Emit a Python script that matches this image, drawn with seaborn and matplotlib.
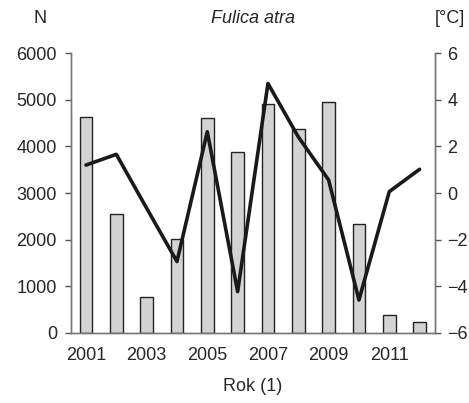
import numpy as np
import pandas as pd
import matplotlib
matplotlib.use('Agg')
import matplotlib.pyplot as plt
import seaborn as sns

# data
years = [2001, 2002, 2003, 2004, 2005, 2006, 2007, 2008, 2009, 2010, 2011, 2012]
counts = [4630, 2550, 760, 2010, 4600, 3880, 4920, 4380, 4950, 2330, 380, 230]
temps = [1.2, 1.66, -0.65, -2.94, 2.63, -4.23, 4.7, 2.41, 0.56, -4.59, 0.06, 1.02]
year_labels = ['2001', '', '2003', '', '2005', '', '2007', '', '2009', '', '2011', '']

sns.set_style('white')
plt.rcParams['font.family'] = ['Liberation Sans', 'DejaVu Sans']

df = pd.DataFrame({'rok': [str(y) for y in years], 'N': counts, 'T': temps})

fig = plt.figure(figsize=(4.69, 4.03), dpi=100)
ax = fig.add_axes([0.151, 0.174, 0.776, 0.694])

sns.barplot(data=df, x='rok', y='N', ax=ax, width=0.42, color='#d3d3d3',
            saturation=1, edgecolor='#222222', linewidth=1.0)
ax.set_ylim(0, 6000)
ax.set_xlim(-0.5, 11.5)
ax.set_yticks(range(0, 6001, 1000))

ax2 = ax.twinx()
sns.lineplot(x=np.arange(len(years)), y=df['T'], ax=ax2, color='#1a1a1a', linewidth=2.6)
ax2.set_ylim(-6, 6)
ax2.set_yticks(range(-6, 7, 2))
ax2.set_xlim(-0.5, 11.5)
ax2.set_ylabel('')

# x ticks: marks at boundaries, labels at odd years
ax.set_xticks(np.arange(len(years)))
ax.set_xticklabels(year_labels)
ax.set_xticks(np.arange(-0.5, 12, 1), minor=True)
ax.tick_params(axis='x', which='major', length=0, pad=10, labelsize=13)
ax.tick_params(axis='x', which='minor', length=4, width=1, color='#555555', direction='out')
ax.tick_params(axis='y', length=4, width=1, color='#555555', direction='out', labelsize=13, pad=6)
ax2.tick_params(axis='y', length=4, width=1, color='#555555', direction='out', labelsize=13, pad=5)

for a in (ax, ax2):
    a.spines['top'].set_visible(False)
    for s in ('left', 'right', 'bottom'):
        a.spines[s].set_color('#777777')
        a.spines[s].set_linewidth(1.0)

ax.set_xlabel('Rok (1)', fontsize=13, labelpad=10)
ax.set_ylabel('')
fig.text(0.085, 0.955, 'N', fontsize=13, ha='center', va='center')
fig.text(0.96, 0.955, '[°C]', fontsize=13, ha='center', va='center')
fig.text(0.54, 0.955, 'Fulica atra', fontsize=13, ha='center', va='center', style='italic')

fig.savefig('out.png', dpi=100)
